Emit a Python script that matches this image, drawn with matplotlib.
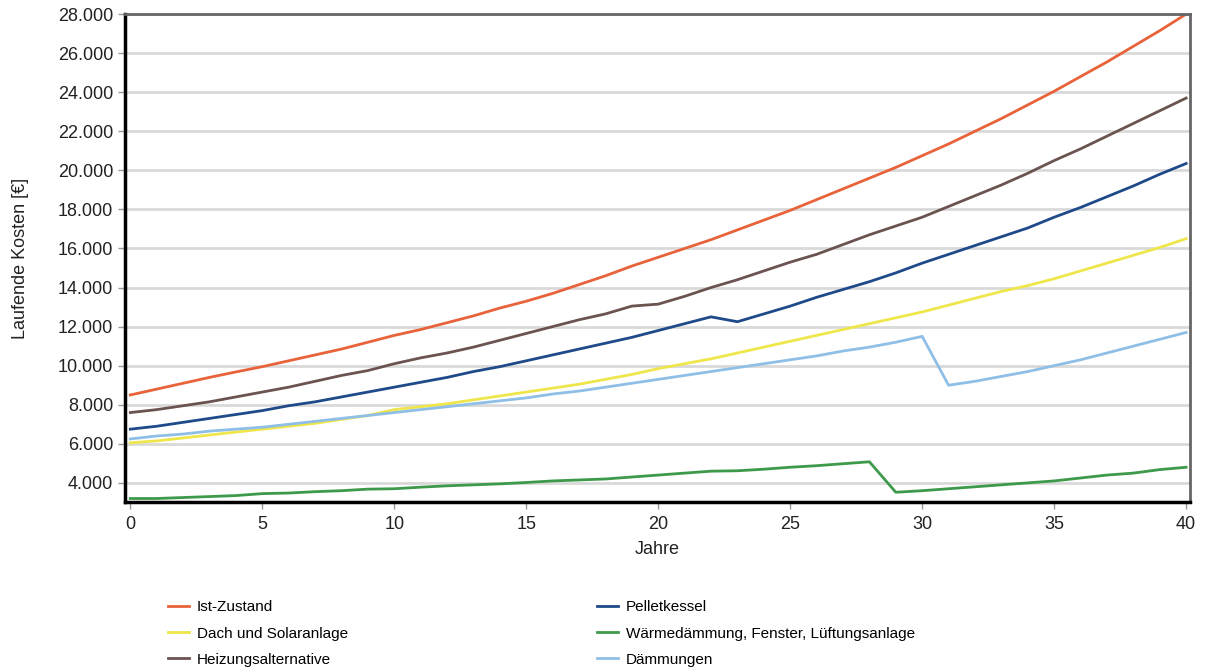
import matplotlib.pyplot as plt
from matplotlib.ticker import FuncFormatter
import numpy as np

plt.rcParams['font.family'] = ['Liberation Sans', 'DejaVu Sans']

jahre = list(range(0, 41))

ist_zustand = [8500, 8800, 9100, 9400, 9680, 9950, 10250, 10550, 10850, 11200,
               11550, 11850, 12200, 12550, 12950, 13300, 13700, 14150, 14600, 15100,
               15550, 16000, 16450, 16950, 17450, 17950, 18500, 19050, 19600, 20150,
               20750, 21350, 22000, 22650, 23350, 24050, 24800, 25550, 26350, 27150,
               28000]
heizungsalternative = [7600, 7750, 7950, 8150, 8400, 8650, 8900, 9200, 9500, 9750,
                       10100, 10400, 10650, 10950, 11300, 11650, 12000, 12350, 12650, 13050,
                       13150, 13550, 14000, 14400, 14850, 15300, 15700, 16200, 16700, 17150,
                       17600, 18150, 18700, 19250, 19850, 20500, 21100, 21750, 22400, 23050,
                       23700]
pelletkessel = [6750, 6900, 7100, 7300, 7500, 7700, 7950, 8150, 8400, 8650,
                8900, 9150, 9400, 9700, 9950, 10250, 10550, 10850, 11150, 11450,
                11800, 12150, 12500, 12250, 12650, 13050, 13500, 13900, 14300, 14750,
                15250, 15700, 16150, 16600, 17050, 17600, 18100, 18650, 19200, 19800,
                20350]
dach_solar = [6050, 6150, 6300, 6450, 6600, 6750, 6900, 7050, 7250, 7450,
              7750, 7900, 8050, 8250, 8450, 8650, 8850, 9050, 9300, 9550,
              9850, 10100, 10350, 10650, 10950, 11250, 11550, 11850, 12150, 12450,
              12750, 13100, 13450, 13800, 14100, 14450, 14850, 15250, 15650, 16050,
              16500]
daemmungen = [6250, 6400, 6500, 6650, 6750, 6850, 7000, 7150, 7300, 7450,
              7600, 7750, 7900, 8050, 8200, 8350, 8550, 8700, 8900, 9100,
              9300, 9500, 9700, 9900, 10100, 10300, 10500, 10750, 10950, 11200,
              11500, 9000, 9200, 9450, 9700, 10000, 10300, 10650, 11000, 11350,
              11700]
waermedaemmung = [3200, 3200, 3250, 3300, 3350, 3450, 3480, 3550, 3600, 3680,
                  3700, 3780, 3850, 3900, 3950, 4020, 4100, 4150, 4200, 4300,
                  4400, 4500, 4600, 4620, 4700, 4800, 4880, 4980, 5080, 3520,
                  3600, 3700, 3800, 3900, 4000, 4100, 4250, 4400, 4500, 4680,
                  4800]

fig = plt.figure(figsize=(12.07, 6.70), dpi=100)
ax = fig.add_axes([0.1036, 0.251, 0.8824, 0.728])

lw = 2.0
l_ist, = ax.plot(jahre, ist_zustand, color='#e8623a', lw=lw, label='Ist-Zustand')
l_heiz, = ax.plot(jahre, heizungsalternative, color='#6b5450', lw=lw, label='Heizungsalternative')
l_pel, = ax.plot(jahre, pelletkessel, color='#1f4a8a', lw=lw, label='Pelletkessel')
l_dach, = ax.plot(jahre, dach_solar, color='#eee64a', lw=lw, label='Dach und Solaranlage')
l_daem, = ax.plot(jahre, daemmungen, color='#8fbfe6', lw=lw, label='Dämmungen')
l_waerm, = ax.plot(jahre, waermedaemmung, color='#3d9a4a', lw=lw,
                   label='Wärmedämmung, Fenster, Lüftungsanlage')

ax.set_xlim(-0.2, 40.15)
ax.set_ylim(3030, 28000)
ax.set_xticks(range(0, 41, 5))
ax.set_yticks(range(4000, 28001, 2000))
ax.yaxis.set_major_formatter(FuncFormatter(lambda v, p: '{:,.0f}'.format(v).replace(',', '.')))
ax.grid(axis='y', color='#d9d9d9', lw=2.0)
ax.set_axisbelow(True)
ax.tick_params(axis='both', colors='#999999', labelcolor='#222222', length=5,
               width=1, labelsize=13)
ax.tick_params(axis='x', pad=5)

for s in ['left', 'bottom']:
    ax.spines[s].set_color('black')
    ax.spines[s].set_linewidth(2.5)
for s in ['top', 'right']:
    ax.spines[s].set_color('#666666')
    ax.spines[s].set_linewidth(2.0)

ax.set_xlabel('Jahre', fontsize=13, color='#222222')
ax.set_ylabel('Laufende Kosten [€]', fontsize=13, color='#222222')
ax.xaxis.set_label_coords(0.5, -0.080)
ax.yaxis.set_label_coords(-0.090, 0.5)

handles = [l_ist, l_dach, l_heiz, l_pel, l_waerm, l_daem]
fig.legend(handles=handles, labels=[h.get_label() for h in handles], ncol=2,
           loc='upper left', bbox_to_anchor=(0.139, 0.104), bbox_transform=fig.transFigure,
           frameon=False, fontsize=11, handlelength=1.4, handletextpad=0.5,
           columnspacing=16.3, labelspacing=0.8, borderaxespad=0, borderpad=0)

fig.savefig('out.png', dpi=100, facecolor='white')
